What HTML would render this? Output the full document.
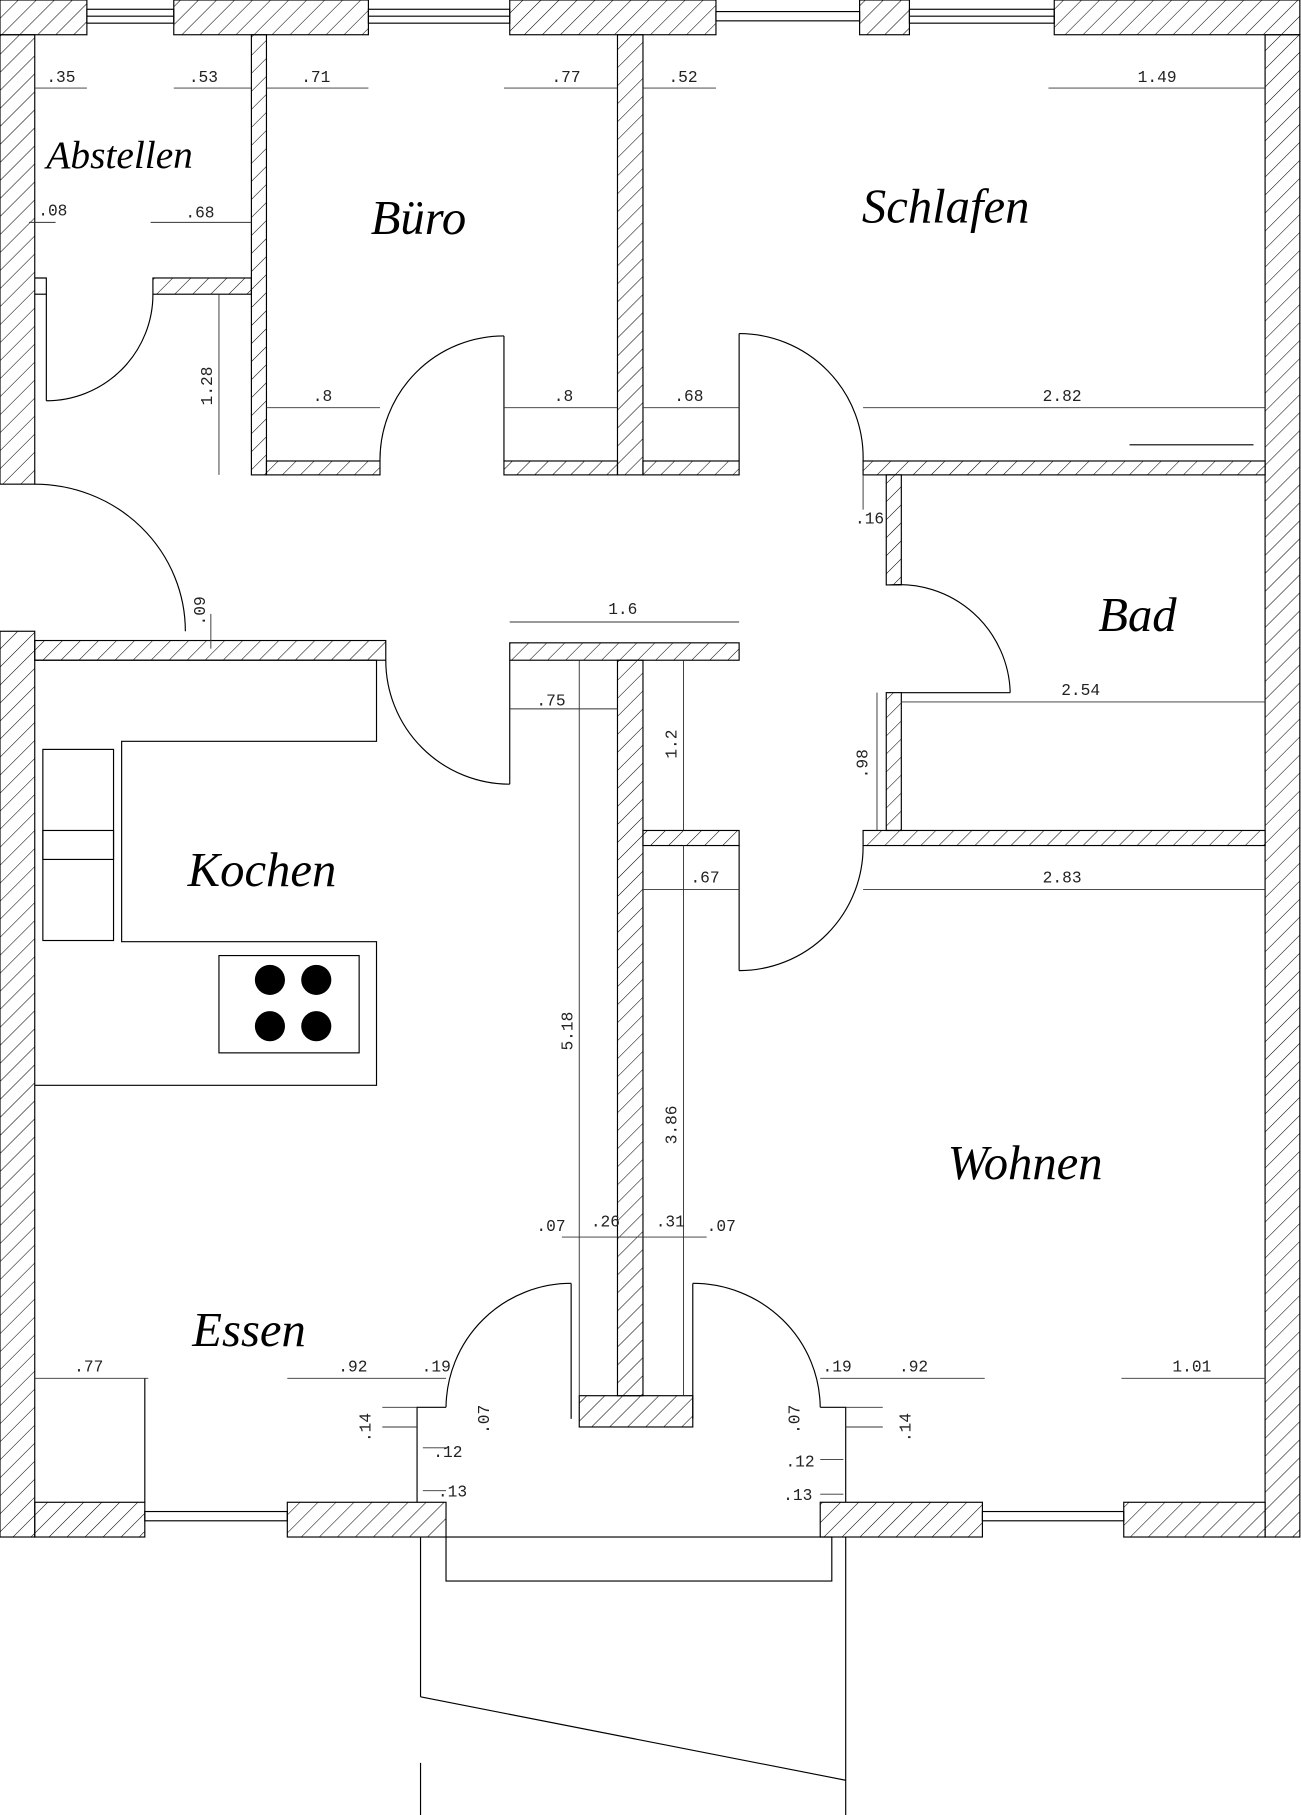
<!DOCTYPE html>
<html><head><meta charset="utf-8"><style>
html,body{margin:0;padding:0;background:#fff}
svg{display:block}
.d{font-family:"Liberation Mono",monospace;font-size:14px;fill:#222}
.r{font-family:"Liberation Serif",serif;font-style:italic;font-size:42px;fill:#000}
</style></head><body>
<svg width="1301" height="1815" viewBox="0 0 1123 1567" preserveAspectRatio="none" xmlns="http://www.w3.org/2000/svg">
<defs>
<pattern id="h" patternUnits="userSpaceOnUse" width="11" height="11" patternTransform="rotate(45)">
<line x1="0" y1="0" x2="0" y2="11" stroke="#000" stroke-width="0.9"/>
</pattern>
</defs>
<g fill="url(#h)" stroke="#000" stroke-width="1">
<!-- top wall -->
<rect x="0" y="0" width="75" height="30"/>
<rect x="150" y="0" width="168" height="30"/>
<rect x="440" y="0" width="178" height="30"/>
<rect x="742" y="0" width="43" height="30"/>
<rect x="910" y="0" width="212" height="30"/>
<!-- left wall -->
<rect x="0" y="30" width="30" height="388"/>
<rect x="0" y="545" width="30" height="782"/>
<!-- right wall -->
<rect x="1092" y="30" width="30" height="1297"/>
<!-- bottom wall -->
<rect x="30" y="1297" width="95" height="30"/>
<rect x="248" y="1297" width="137" height="30"/>
<rect x="708" y="1297" width="140" height="30"/>
<rect x="970" y="1297" width="122" height="30"/>
<!-- Abstellen -->
<rect x="132" y="240" width="85" height="14"/>
<rect x="217" y="30" width="13" height="380"/>
<!-- Büro bottom -->
<rect x="230" y="398" width="98" height="12"/>
<rect x="435" y="398" width="98" height="12"/>
<rect x="533" y="30" width="22" height="380"/>
<rect x="555" y="398" width="83" height="12"/>
<!-- Schlafen bottom / Bad -->
<rect x="745" y="398" width="347" height="12"/>
<rect x="765" y="410" width="13" height="95"/>
<rect x="765" y="598" width="13" height="119"/>
<rect x="745" y="717" width="347" height="13"/>
<rect x="555" y="717" width="83" height="13"/>
<!-- kitchen top -->
<rect x="30" y="553" width="303" height="17"/>
<rect x="440" y="555" width="198" height="15"/>
<!-- central wall -->
<rect x="533" y="570" width="22" height="635"/>
<rect x="500" y="1205" width="98" height="27"/>
</g>
<g fill="none" stroke="#000" stroke-width="1">
<!-- windows -->
<rect x="75" y="8" width="75" height="12"/><line x1="75" y1="14" x2="150" y2="14"/>
<rect x="318" y="8" width="122" height="12"/><line x1="318" y1="14" x2="440" y2="14"/>
<rect x="618" y="10" width="124" height="8"/>
<rect x="785" y="8" width="125" height="12"/><line x1="785" y1="14" x2="910" y2="14"/>
<rect x="125" y="1305" width="123" height="8"/>
<rect x="848" y="1305" width="122" height="8"/>
<!-- Abstellen door -->
<polyline points="30,240 40,240 40,346"/>
<path d="M40,346 A92,92 0 0 0 132,254"/>
<line x1="30" y1="254" x2="40" y2="254"/>
<!-- Büro door -->
<line x1="435" y1="290" x2="435" y2="398"/>
<path d="M328,398 A107,107 0 0 1 435,290"/>
<!-- Schlafen door -->
<line x1="638" y1="288" x2="638" y2="398"/>
<path d="M638,288 A107,107 0 0 1 745,398"/>
<!-- Bad door -->
<path d="M768,505 A96,96 0 0 1 872,598"/>
<line x1="778" y1="598" x2="872" y2="598"/>
<!-- Wohnen door -->
<line x1="638" y1="730" x2="638" y2="838"/>
<path d="M638,838 A107,107 0 0 0 745,730"/>
<!-- entry door left outside -->
<path d="M30,418 A130,127 0 0 1 160,545"/>
<!-- kitchen door -->
<line x1="440" y1="570" x2="440" y2="677"/>
<path d="M333,570 A107,107 0 0 0 440,677"/>
<!-- front doors -->
<line x1="493" y1="1108" x2="493" y2="1225"/>
<path d="M385,1215 A108,108 0 0 1 493,1108"/>
<line x1="598" y1="1108" x2="598" y2="1225"/>
<path d="M598,1108 A110,108 0 0 1 708,1215"/>
<polyline points="360,1297 360,1215 385,1215"/>
<polyline points="730,1297 730,1215 708,1215"/>
<!-- porch -->
<rect x="385" y="1327" width="333" height="38"/>
<line x1="363" y1="1327" x2="363" y2="1465"/>
<line x1="363" y1="1465" x2="730" y2="1537"/>
<line x1="730" y1="1327" x2="730" y2="1567"/>
<line x1="363" y1="1522" x2="363" y2="1567"/>
<!-- kitchen -->
<polyline points="30,570 325,570 325,640 105,640 105,813 325,813 325,937 30,937"/>
<rect x="37" y="647" width="61" height="165"/>
<rect x="37" y="717" width="61" height="25"/>
<rect x="189" y="825" width="121" height="84"/>
<!-- bottom-left cabinet -->
<polyline points="125,1297 125,1190"/>
<line x1="975" y1="384" x2="1082" y2="384"/>
</g>
<g fill="#000">
<circle cx="233" cy="846" r="13"/><circle cx="273" cy="846" r="13"/>
<circle cx="233" cy="886" r="13"/><circle cx="273" cy="886" r="13"/>
</g>
<!-- dimension lines -->
<g stroke="#333" stroke-width="0.8" fill="none">
<line x1="30" y1="76" x2="75" y2="76"/><line x1="150" y1="76" x2="217" y2="76"/>
<line x1="230" y1="76" x2="318" y2="76"/><line x1="435" y1="76" x2="533" y2="76"/>
<line x1="555" y1="76" x2="618" y2="76"/><line x1="905" y1="76" x2="1092" y2="76"/>
<line x1="25" y1="192" x2="48" y2="192"/><line x1="130" y1="192" x2="217" y2="192"/>
<line x1="230" y1="352" x2="328" y2="352"/><line x1="435" y1="352" x2="533" y2="352"/>
<line x1="555" y1="352" x2="638" y2="352"/><line x1="745" y1="352" x2="1092" y2="352"/>
<line x1="189" y1="254" x2="189" y2="410"/>
<line x1="745" y1="410" x2="745" y2="440"/>
<line x1="440" y1="537" x2="638" y2="537"/>
<line x1="182" y1="530" x2="182" y2="560"/>
<line x1="440" y1="612" x2="533" y2="612"/>
<line x1="778" y1="606" x2="1092" y2="606"/>
<line x1="757" y1="598" x2="757" y2="717"/>
<line x1="590" y1="570" x2="590" y2="717"/>
<line x1="555" y1="768" x2="638" y2="768"/>
<line x1="745" y1="768" x2="1092" y2="768"/>
<line x1="500" y1="570" x2="500" y2="1205"/>
<line x1="590" y1="730" x2="590" y2="1205"/>
<line x1="485" y1="1068" x2="610" y2="1068"/>
<line x1="30" y1="1190" x2="128" y2="1190"/>
<line x1="248" y1="1190" x2="385" y2="1190"/>
<line x1="708" y1="1190" x2="850" y2="1190"/>
<line x1="968" y1="1190" x2="1092" y2="1190"/>
<line x1="330" y1="1215" x2="360" y2="1215"/><line x1="330" y1="1232" x2="360" y2="1232"/>
<line x1="730" y1="1215" x2="762" y2="1215"/><line x1="730" y1="1232" x2="762" y2="1232"/>
<line x1="365" y1="1250" x2="385" y2="1250"/><line x1="708" y1="1260" x2="728" y2="1260"/>
<line x1="365" y1="1287" x2="385" y2="1287"/><line x1="708" y1="1290" x2="728" y2="1290"/>
</g>
<g class="d">
<text x="40" y="71">.35</text><text x="163" y="71">.53</text>
<text x="260" y="71">.71</text><text x="476" y="71">.77</text>
<text x="577" y="71">.52</text><text x="982" y="71">1.49</text>
<text x="33" y="186">.08</text><text x="160" y="188">.68</text>
<text x="270" y="346">.8</text><text x="478" y="346">.8</text>
<text x="582" y="346">.68</text><text x="900" y="346">2.82</text>
<text x="738" y="452">.16</text>
<text x="525" y="530">1.6</text>
<text x="463" y="609">.75</text>
<text x="916" y="600">2.54</text>
<text x="596" y="762">.67</text><text x="900" y="762">2.83</text>
<text x="463" y="1063">.07</text><text x="510" y="1059">.26</text>
<text x="566" y="1059">.31</text><text x="610" y="1063">.07</text>
<text x="64" y="1184">.77</text><text x="292" y="1184">.92</text>
<text x="364" y="1184">.19</text><text x="710" y="1184">.19</text>
<text x="776" y="1184">.92</text><text x="1012" y="1184">1.01</text>
<text x="374" y="1258">.12</text><text x="678" y="1266">.12</text>
<text x="378" y="1292">.13</text><text x="676" y="1295">.13</text>
<text transform="translate(183,350) rotate(-90)">1.28</text>
<text transform="translate(177,540) rotate(-90)">.09</text>
<text transform="translate(584,655) rotate(-90)">1.2</text>
<text transform="translate(749,672) rotate(-90)">.98</text>
<text transform="translate(494,907) rotate(-90)">5.18</text>
<text transform="translate(584,988) rotate(-90)">3.86</text>
<text transform="translate(320,1245) rotate(-90)">.14</text>
<text transform="translate(786,1245) rotate(-90)">.14</text>
<text transform="translate(422,1238) rotate(-90)">.07</text>
<text transform="translate(690,1238) rotate(-90)">.07</text>
</g>
<g class="r">
<text x="40" y="145" style="font-size:34px">Abstellen</text>
<text x="320" y="202">Büro</text>
<text x="744" y="192">Schlafen</text>
<text x="948" y="545">Bad</text>
<text x="162" y="765">Kochen</text>
<text x="818" y="1018">Wohnen</text>
<text x="166" y="1162">Essen</text>
</g>
</svg>
</body></html>
